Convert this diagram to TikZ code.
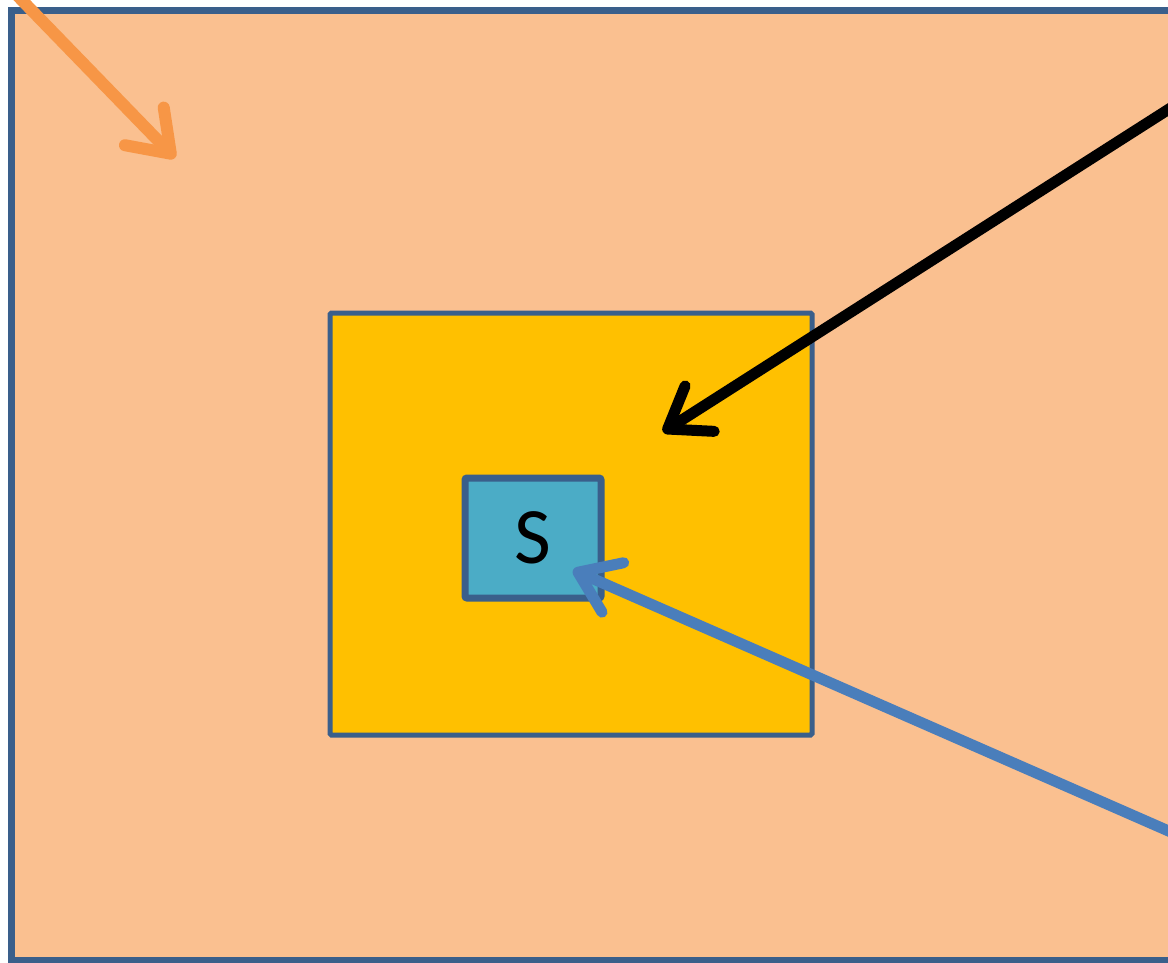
\documentclass[tikz,border=0pt]{standalone}
\usepackage{fontspec}
\setmainfont{Carlito}
\usetikzlibrary{arrows.meta, calc}
\definecolor{peach}{HTML}{FAC090}
\definecolor{frameBlue}{HTML}{3A5F8B}
\definecolor{gold}{HTML}{FFC000}
\definecolor{aqua}{HTML}{4BACC6}
\definecolor{arrowOrange}{HTML}{F79646}
\definecolor{arrowBlue}{HTML}{4A7EBB}
\begin{document}
\begin{tikzpicture}[
  x=1pt, y=-1pt,
  outerBox/.style ={rectangle, draw=frameBlue, fill=peach, line width=7pt, inner sep=0pt, minimum width=1164pt, minimum height=950pt},
  middleBox/.style={rectangle, draw=frameBlue, fill=gold, line width=5pt, rounded corners=1.5pt, inner sep=0pt, minimum width=482pt, minimum height=422pt},
  innerBox/.style ={rectangle, draw=frameBlue, fill=aqua, line width=7pt, rounded corners=2pt, inner sep=0pt, minimum width=136pt, minimum height=120pt, font=\fontsize{80}{88}\selectfont},
  pointer/.style  ={-{Straight Barb[length=38pt, width=54pt, round]}, line width=11pt}
]
\useasboundingbox (0,0) rectangle (1168,962);
\clip (0,0) rectangle (1168,962);

% ================== NESTED BOXES ==================
\node[outerBox]  (OUTER)  at (593,485) {};
\node[middleBox] (MIDDLE) at (571,524) {};
\node[innerBox]  (SELF)   at (533,538) {S};

% ================== ARROW ENDS ==================
\coordinate (orangeStart) at (12,-10);
\coordinate (orangeTip)   at (175,158);
\coordinate (blackStart)  at (1180,102);
\coordinate (blackTip)    at (663,432);
\coordinate (blueStart)   at (1180,836);
\coordinate (blueTip)     at (573,570);

% ================== ARROWS ==================
\draw[pointer, arrowOrange, line width=12pt] (orangeStart) -- (orangeTip);
\draw[pointer, black] (blackStart) -- (blackTip);
\draw[pointer, arrowBlue] (blueStart) -- (blueTip);

\end{tikzpicture}
\end{document}
